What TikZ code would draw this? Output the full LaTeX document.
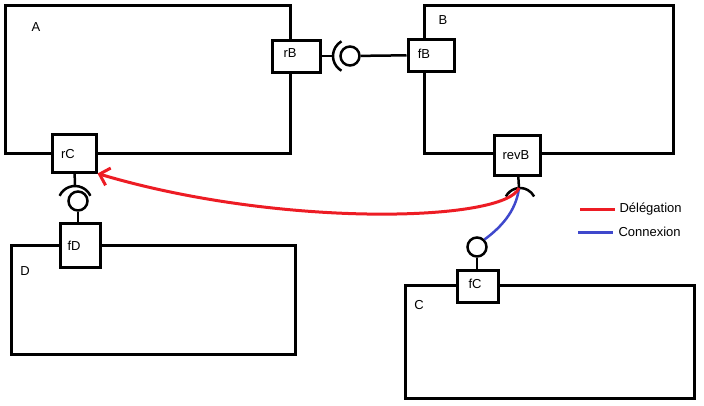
\documentclass[tikz,border=0pt]{standalone}
\usepackage{fontspec}
\setmainfont{Liberation Sans}
\usetikzlibrary{arrows.meta,positioning}
\definecolor{paintred}{RGB}{237,28,36}
\definecolor{paintblue}{RGB}{63,72,204}
\tikzset{
  comp/.style={draw=black,line width=3pt,rectangle,inner sep=0pt},
  port/.style={draw=black,line width=3pt,rectangle,fill=white,inner sep=0pt,font=\fontsize{13}{15}\selectfont},
  ball/.style={draw=black,line width=2.5pt,circle,inner sep=0pt,minimum size=19pt},
  lbl/.style={font=\fontsize{13}{15}\selectfont,inner sep=0pt},
  wire/.style={line width=2.5pt},
}
\begin{document}
\begin{tikzpicture}[x=1pt,y=-1pt]
\useasboundingbox (0,0) rectangle (704,405);
% composants
\node (A) [comp,minimum width=285pt,minimum height=148pt] at (147.5,79) {};
\node (B) [comp,minimum width=249pt,minimum height=148pt] at (548.5,79) {};
\node (D) [comp,minimum width=284pt,minimum height=109pt] at (153,299.5) {};
\node (C) [comp,minimum width=289pt,minimum height=113pt] at (549.5,341.5) {};
\node (labA) [lbl] at (36,27) {A};
\node (labB) [lbl] at (443,20) {B};
\node (labD) [lbl] at (25,271) {D};
\node (labC) [lbl] at (419,305) {C};
% ports
\node (rB) [port,minimum width=48pt,minimum height=32pt] at (296,56) {};
\node (fB) [port,minimum width=46pt,minimum height=32pt] at (431,55) {};
\node (rC) [port,minimum width=44pt,minimum height=38pt] at (74,153) {};
\node (fD) [port,minimum width=40pt,minimum height=44pt] at (80,245) {};
\node (revB) [port,minimum width=46pt,minimum height=40pt] at (517,155) {};
\node (fC) [port,minimum width=41pt,minimum height=32pt] at (478,286) {};
\node (txtrB) [lbl] at (290,53) {rB};
\node (txtfB) [lbl] at (424,54) {fB};
\node (txtrC) [lbl] at (68,154) {rC};
\node (txtfD) [lbl] at (74,246) {fD};
\node (txtrevB) [lbl] at (516,155) {revB};
\node (txtfC) [lbl] at (475,284) {fC};
% interfaces fournies
\node (ballB) [ball] at (350,56) {};
\node (ballD) [ball] at (78,201) {};
\node (ballC) [ball] at (477,247) {};
% interfaces requises
\coordinate (sockB) at (333,56);
\coordinate (sockD) at (75,186);
\coordinate (sockRev) at (519,188);
\draw[wire] (350,56) ++(120:17) arc (120:240:17);
\draw[wire] (75,203) ++(205:17) arc (205:335:17);
\draw[wire] (520,204) ++(208:16) arc (208:332:16);
%
\draw[wire] (rB) -- (sockB);
\draw[wire] (ballB) -- (fB);
\draw[wire] (rC) -- (sockD);
\draw[wire] (ballD.south) -- (ballD.south |- fD.north);
\draw[wire] (revB) -- (sockRev);
\draw[wire] (ballC) -- (ballC |- fC.north);
% connexion et delegation
\draw[paintblue,line width=2.5pt] (sockRev) .. controls (516,212) and (500,228) .. (ballC.north east);
\draw[paintred,line width=3pt,-{Straight Barb[length=9pt,width=18pt,line width=3pt]}] (sockRev) .. controls (505,222) and (280,228) .. (rC.south east);
% legende
\coordinate (legR) at (580,209);
\coordinate (legB) at (578,232);
\draw[paintred,line width=3pt] (legR) -- ++(35,0) node (txtR) [lbl,black,right=3pt] {Délégation};
\draw[paintblue,line width=3pt] (legB) -- ++(35,0) node (txtB) [lbl,black,right=4pt] {Connexion};
\end{tikzpicture}
\end{document}
